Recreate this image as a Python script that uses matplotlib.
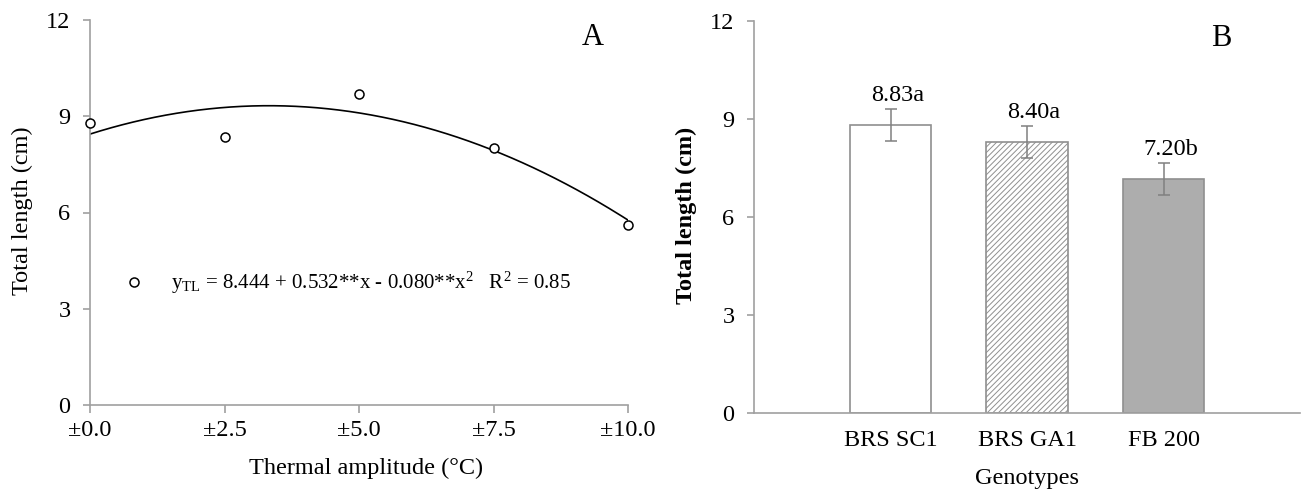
import numpy as np
import matplotlib
matplotlib.use("Agg")
import matplotlib.pyplot as plt
from matplotlib.lines import Line2D

plt.rcParams["font.family"] = ["Liberation Serif", "DejaVu Serif"]
plt.rcParams["mathtext.fontset"] = "custom"
plt.rcParams["mathtext.rm"] = "Liberation Serif"
plt.rcParams["mathtext.it"] = "Liberation Serif:italic"
plt.rcParams["hatch.linewidth"] = 0.7

# panel A: thermal amplitude vs total length
amplitude = [0.0, 2.5, 5.0, 7.5, 10.0]
amp_labels = ["±0.0", "±2.5", "±5.0", "±7.5", "±10.0"]
total_len = [8.80, 8.35, 9.68, 8.00, 5.60]
fit_coef = (8.444, 0.532, -0.080)  # b0, b1, b2 from the printed equation

# panel B: genotypes
genotypes = ["BRS SC1", "BRS GA1", "FB 200"]
geno_mean = [8.82, 8.30, 7.16]
geno_err = [0.48, 0.49, 0.49]
geno_text = ["8.83a", "8.40a", "7.20b"]

SPINE = "#a0a0a0"
FS = 17.5

fig = plt.figure(figsize=(13.02, 4.92), dpi=100)
axA = fig.add_axes([90 / 1302, 87 / 492, 538 / 1302, 385 / 492])
axB = fig.add_axes([754 / 1302, 79 / 492, 546 / 1302, 392 / 492])

for ax in (axA, axB):
    for s in ("top", "right"):
        ax.spines[s].set_visible(False)
    for s in ("left", "bottom"):
        ax.spines[s].set_color(SPINE)
        ax.spines[s].set_linewidth(1.2)
    ax.set_ylim(0, 12)
    ax.set_yticks([0, 3, 6, 9, 12])
    ax.tick_params(axis="y", direction="out", length=5, width=1.2,
                   color=SPINE, labelsize=FS, pad=9)

# ---- A ----
xs = np.linspace(0, 10, 200)
b0, b1, b2 = fit_coef
axA.plot(xs, b0 + b1 * xs + b2 * xs ** 2, color="black", lw=1.2, zorder=2)
axA.plot(amplitude, total_len, "o", ms=6.5, mfc="white", mec="black",
         mew=1.1, clip_on=False, zorder=3)
axA.set_xlim(0, 10)
axA.set_xticks(amplitude)
axA.set_xticklabels(amp_labels)
axA.tick_params(axis="x", direction="out", length=6, width=1.2,
                color=SPINE, labelsize=FS, pad=5)
axA.set_xlabel("Thermal amplitude (°C)", fontsize=FS, va="center")
axA.xaxis.set_label_coords(0.513, -0.164)
axA.set_ylabel("Total length (cm)", fontsize=FS, va="center")
axA.yaxis.set_label_coords(-0.125, 0.504)
axA.text(0.935, 0.955, "A", transform=axA.transAxes, fontsize=22,
         ha="center", va="center")

eq = (r"y$_{\mathrm{TL}}$ = 8.444 + 0.532**x - 0.080**x$^{\mathrm{2}}$"
      r"   R$^{\mathrm{2}}$ = 0.85")
handle = Line2D([], [], ls="none", marker="o", ms=6.5, mfc="white",
                mec="black", mew=1.1)
axA.legend([handle], [eq], loc="center left", bbox_to_anchor=(0.063, 0.317),
           frameon=False, fontsize=15, handlelength=1.0, handletextpad=1.25,
           borderpad=0, borderaxespad=0)

# ---- B ----
pos = np.arange(1, len(genotypes) + 1)
bars = axB.bar(pos, geno_mean, width=0.6, color=["white", "white", "#adadad"],
               edgecolor="#8f8f8f", linewidth=1.2, zorder=2)
bars[1].set_hatch("//////")
axB.errorbar(pos, geno_mean, yerr=geno_err, fmt="none", ecolor="#808080",
             elinewidth=1.1, capsize=4.5, capthick=1.1, zorder=3)
for p, m, e, t in zip(pos, geno_mean, geno_err, geno_text):
    axB.text(p + 0.05, m + e + 0.24, t, fontsize=FS, ha="center", va="baseline")
axB.set_xlim(0, 4)
axB.set_xticks(pos)
axB.set_xticklabels(genotypes)
axB.tick_params(axis="x", length=0, labelsize=FS, pad=12)
axB.set_xlabel("Genotypes", fontsize=FS, va="center")
axB.xaxis.set_label_coords(0.5, -0.166)
axB.set_ylabel("Total length (cm)", fontsize=FS, fontweight="bold", va="center")
axB.yaxis.set_label_coords(-0.123, 0.503)
axB.text(0.855, 0.955, "B", transform=axB.transAxes, fontsize=22,
         ha="center", va="center")

fig.savefig("out.png", dpi=100)
